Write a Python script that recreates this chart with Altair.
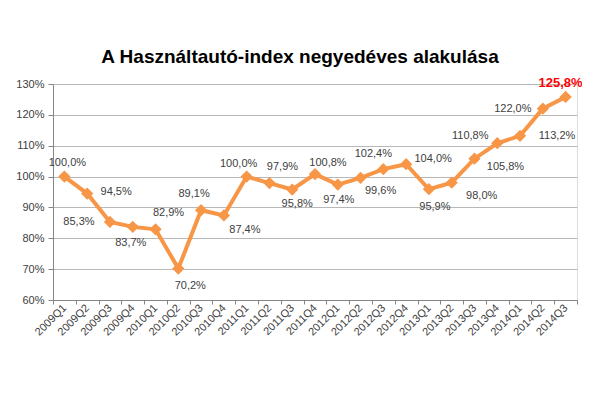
import altair as alt
import pandas as pd

# ---- data ----
quarters = ["2009Q1", "2009Q2", "2009Q3", "2009Q4", "2010Q1", "2010Q2", "2010Q3", "2010Q4",
            "2011Q1", "2011Q2", "2011Q3", "2011Q4", "2012Q1", "2012Q2", "2012Q3", "2012Q4",
            "2013Q1", "2013Q2", "2013Q3", "2013Q4", "2014Q1", "2014Q2", "2014Q3"]
index_values = [100.0, 94.5, 85.3, 83.7, 82.9, 70.2, 89.1, 87.4,
                100.0, 97.9, 95.8, 100.8, 97.4, 99.6, 102.4, 104.0,
                95.9, 98.0, 105.8, 110.8, 113.2, 122.0, 125.8]
y_ticks = [60, 70, 80, 90, 100, 110, 120, 130]

# ---- label layout (pixel offsets of each value label from its point) ----
label_dx = [3, 29, -31, -2, 13, 12, -7, 21, -8, 13, 5, 13, 1, 20, -10, 27, 6, 30, 31, -27, 37, -30, -5]
label_dy = [-14, -2, 0, 16, -16, 17, -16, 15, -13, -16, 14, -11, 15, 13, -15, -5, 18, 13, 8, -7, 0, 0, -14]

df = pd.DataFrame({"q": quarters, "v": index_values})
df["label"] = [f"{v:.1f}%".replace(".", ",") for v in index_values]
df["i"] = range(len(df))
last = len(df) - 1

FONT = "Liberation Sans"
ORANGE = "#F79646"

x_enc = alt.X("q:N", sort=quarters, bandPosition=0.5,
              scale=alt.Scale(type="band", paddingInner=0, paddingOuter=0),
              axis=alt.Axis(title=None, labelAngle=-45, labelAlign="right", labelBaseline="middle",
                            labelFont=FONT, labelFontSize=11, labelColor="#404040",
                            tickBand="extent", tickSize=4, tickColor="#868686",
                            domainColor="#868686", grid=False, labelPadding=2, labelOffset=0))
y_enc = alt.Y("v:Q", scale=alt.Scale(domain=[60, 130], nice=False, zero=False),
              axis=alt.Axis(title=None, values=y_ticks, labelExpr="datum.value + '%'",
                            labelFont=FONT, labelFontSize=11, labelColor="#404040",
                            tickSize=5, tickColor="#868686", domainColor="#868686",
                            grid=True, gridColor="#b8b8b8", labelPadding=4))

base = alt.Chart(df)
line = base.mark_line(color=ORANGE, strokeWidth=4).encode(x=x_enc, y=y_enc)
points = base.mark_point(shape="diamond", filled=True, color=ORANGE, size=150, opacity=1).encode(x=x_enc, y=y_enc)

layers = [line, points]
for i in range(len(df)):
    if i == last:
        continue
    layers.append(
        base.transform_filter(alt.datum.i == i)
        .mark_text(font=FONT, fontSize=11, color="#404040", dx=label_dx[i], dy=label_dy[i],
                   align="center", baseline="middle")
        .encode(x=x_enc, y=y_enc, text="label:N")
    )
layers.append(
    base.transform_filter(alt.datum.i == last)
    .mark_text(font=FONT, fontSize=13, fontWeight="bold", color="#FF0000",
               dx=label_dx[last], dy=label_dy[last], align="center", baseline="middle")
    .encode(x=x_enc, y=y_enc, text="label:N")
)

chart = alt.layer(*layers).properties(
    width=524, height=216,
    autosize=alt.AutoSizeParams(type="none"),
    padding={"left": 45, "top": 76, "right": 5, "bottom": 80},
    title=alt.TitleParams("A Használtautó-index negyedéves alakulása", font=FONT, fontSize=19,
                          fontWeight="bold", color="#000000", anchor="middle", offset=-5,
                          frame="group", baseline="alphabetic", dx=-15),
).configure_view(stroke=None).configure(background="white")

chart.save("out.html", embed_options={"renderer": "svg", "actions": False})
